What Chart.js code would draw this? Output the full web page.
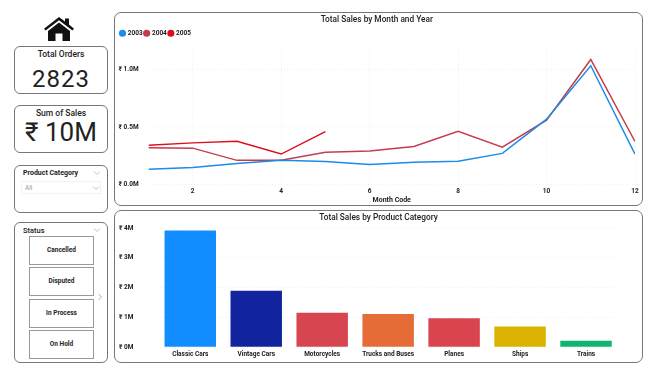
<!DOCTYPE html>
<html>
<head>
<meta charset="utf-8">
<script src="https://cdn.jsdelivr.net/npm/chart.js@4"></script>
<style>
    html, body { margin: 0; padding: 0; background: #fff; }
    body { width: 650px; height: 366px; position: relative; overflow: hidden; font-family: Roboto, sans-serif; color: #222; }
    .card { position: absolute; box-sizing: border-box; border: 1px solid #777; border-radius: 6px; background: #fff; opacity: 0.999; }
    .abs { position: absolute; white-space: nowrap; line-height: 1; }
    .center { left: 0; right: 0; text-align: center; }
    .panel { position: absolute; box-sizing: border-box; border: 1.5px solid #777; border-radius: 7px; }
    .panel canvas { position: absolute; left: -1.5px; top: -1.5px; }
    .btn { position: absolute; left: 14px; width: 65px; height: 29px; box-sizing: border-box; border: 1px solid #999; font-size: 6.5px; font-weight: 700; text-align: center; line-height: 27px; }
    .chev { position: absolute; fill: none; stroke: #b5b5b5; stroke-width: 0.8; }
</style>
</head>
<body>
    <!-- Icono de inicio -->
    <svg class="abs" style="left:44px;top:17px" width="30" height="24" viewBox="0 0 30 24">
        <path fill="#111" d="M15 0 L21 4.5 V1.5 H25 V7.6 L30 11.8 L28.4 13.6 L15 3.2 L1.6 13.6 L0 11.8 Z M15 5.6 L26 14 V24 H18.5 V16.5 H11.5 V24 H4 V14 Z"/>
    </svg>

    <div class="card" style="left:14px;top:46px;width:94px;height:48px">
        <div class="abs center" style="top:3px;font-size:8.5px;font-weight:500">Total Orders</div>
        <div class="abs center" style="top:20px;font-size:24px;letter-spacing:1px">2823</div>
    </div>
    <div class="card" style="left:14px;top:105px;width:94px;height:48px">
        <div class="abs center" style="top:3px;font-size:8.5px;font-weight:500">Sum of Sales</div>
        <div class="abs center" style="top:13px;font-size:26px">₹ 10M</div>
    </div>

    <div class="card" style="left:14px;top:165px;width:94px;height:48px">
        <div class="abs" style="left:8px;top:4px;font-size:7px;font-weight:700">Product Category</div>
        <svg class="chev" style="left:78px;top:5px" width="8" height="4"><polyline points="1,0.5 4,3.5 7,0.5"/></svg>
        <div class="abs" style="left:6px;top:15px;width:80px;height:13px;border:1px solid #f3f3f3;box-sizing:border-box"></div>
        <div class="abs" style="left:10px;top:19px;font-size:6.5px;color:#999">All</div>
        <svg class="chev" style="left:77px;top:20px" width="8" height="4"><polyline points="1,0.5 4,3.5 7,0.5"/></svg>
    </div>

    <div class="card" style="left:14px;top:222px;width:94px;height:141px">
        <div class="abs" style="left:8px;top:4px;font-size:7.5px;font-weight:500">Status</div>
        <svg class="chev" style="left:78px;top:5px" width="8" height="4"><polyline points="1,0.5 4,3.5 7,0.5"/></svg>
        <div class="btn" style="top:13px">Cancelled</div>
        <div class="btn" style="top:44px">Disputed</div>
        <div class="btn" style="top:76px">In Process</div>
        <div class="btn" style="top:107px">On Hold</div>
        <svg class="chev" style="left:83px;top:70px;stroke:#999" width="5" height="8"><polyline points="0.5,1 3.5,4 0.5,7"/></svg>
    </div>

    <div class="panel" style="left:114px;top:12px;width:529px;height:194px">
        <canvas id="lineChart" width="529" height="194" style="width:529px;height:194px"></canvas>
    </div>
    <div class="panel" style="left:114px;top:210px;width:529px;height:153px">
        <canvas id="barChart" width="529" height="153" style="width:529px;height:153px"></canvas>
    </div>

<script>
    // Datos (ventas en millones)
    const months = [1, 2, 3, 4, 5, 6, 7, 8, 9, 10, 11, 12];
    const sales2003 = [0.13, 0.144, 0.179, 0.207, 0.196, 0.17, 0.19, 0.2, 0.268, 0.568, 1.035, 0.262];
    const sales2004 = [0.317, 0.314, 0.207, 0.207, 0.277, 0.288, 0.329, 0.461, 0.323, 0.559, 1.09, 0.372];
    const sales2005 = [0.34, 0.36, 0.375, 0.262, 0.458];
    const monthTicks = [2, 4, 6, 8, 10, 12];
    const lineTicks = [0, 0.5, 1];

    const categories = ['Classic Cars', 'Vintage Cars', 'Motorcycles', 'Trucks and Buses', 'Planes', 'Ships', 'Trains'];
    const categorySales = [3.92, 1.9, 1.16, 1.12, 0.97, 0.7, 0.22];
    const categoryColors = ['#118DFF', '#12239E', '#D64550', '#E66C37', '#D9444F', '#D9B300', '#0EB56E'];
    const barTicks = [0, 1, 2, 3, 4];

    const tickFont = { family: 'Roboto', size: 6.5, weight: '700' };
    const titleFont = { family: 'Roboto', size: 8.3, weight: '500', lineHeight: 1.2 };
    const gridStyle = { color: '#f1f1f1', drawTicks: false };
    const dottedBorder = { display: false, dash: [1, 2] };
    Chart.defaults.color = '#222';
    Chart.defaults.animation = false;
    Chart.defaults.responsive = false;

    const toPoints = values => values.map((v, i) => ({ x: months[i], y: v }));
    const lineSet = (label, values, color) => ({
        label, data: toPoints(values), borderColor: color, backgroundColor: color,
        borderWidth: 1.5, pointRadius: 0, tension: 0
    });

    // Ventas por mes y año
    new Chart(document.getElementById('lineChart').getContext('2d'), {
        type: 'line',
        data: {
            datasets: [
                lineSet('2003', sales2003, '#1A8CEB'),
                lineSet('2004', sales2004, '#C53C4B'),
                lineSet('2005', sales2005, '#DC101C')
            ]
        },
        options: {
            layout: { padding: { left: 4.5, right: 8, top: 0, bottom: 0 } },
            plugins: {
                title: { display: true, text: 'Total Sales by Month and Year', font: titleFont, color: '#222', padding: { top: 3, bottom: 3 } },
                legend: {
                    align: 'start',
                    labels: { font: tickFont, usePointStyle: true, pointStyle: 'circle', boxWidth: 4, boxHeight: 4, padding: 2 }
                },
                tooltip: { enabled: false }
            },
            scales: {
                x: {
                    type: 'linear', min: 1, max: 12,
                    afterBuildTicks: axis => { axis.ticks = monthTicks.map(value => ({ value })); },
                    afterFit: axis => { axis.height = 22; },
                    grid: gridStyle,
                    border: dottedBorder,
                    ticks: { font: tickFont, padding: 3, maxRotation: 0, includeBounds: false },
                    title: { display: true, text: 'Month Code', font: { ...tickFont, size: 7 }, padding: { top: 0, bottom: 2 } }
                },
                y: {
                    min: 0, max: 1.204,
                    afterBuildTicks: axis => { axis.ticks = lineTicks.map(value => ({ value })); },
                    afterFit: axis => { axis.width = 30; },
                    grid: gridStyle,
                    border: dottedBorder,
                    ticks: { font: tickFont, padding: 0, crossAlign: 'far', callback: v => '₹ ' + v.toFixed(1) + 'M' }
                }
            }
        }
    });

    // Ventas por categoría de producto
    new Chart(document.getElementById('barChart').getContext('2d'), {
        type: 'bar',
        data: {
            labels: categories,
            datasets: [{ data: categorySales, backgroundColor: categoryColors, barPercentage: 0.78, categoryPercentage: 1 }]
        },
        options: {
            layout: { padding: { left: 5, right: 24, top: 18, bottom: 0 } },
            plugins: {
                title: { display: false },
                legend: { display: false },
                tooltip: { enabled: false }
            },
            scales: {
                x: {
                    afterFit: axis => { axis.height = 15.7; },
                    grid: { display: false, drawTicks: false },
                    border: { display: false },
                    ticks: { font: tickFont, padding: 3, maxRotation: 0, autoSkip: false }
                },
                y: {
                    min: 0, max: 4,
                    afterBuildTicks: axis => { axis.ticks = barTicks.map(value => ({ value })); },
                    afterFit: axis => { axis.width = 38.3; },
                    grid: gridStyle,
                    border: dottedBorder,
                    ticks: { font: tickFont, padding: 0, crossAlign: 'far', callback: v => '₹ ' + v + 'M' }
                }
            }
        },
        plugins: [{
            // Título del panel, encima del área de barras
            id: 'panelTitle',
            afterDraw(chart) {
                const c = chart.ctx;
                c.save();
                c.font = '500 8.3px Roboto';
                c.fillStyle = '#222';
                c.textAlign = 'center';
                c.textBaseline = 'middle';
                c.fillText('Total Sales by Product Category', chart.width / 2, 7.5);
                c.restore();
            }
        }]
    });
</script>
</body>
</html>
